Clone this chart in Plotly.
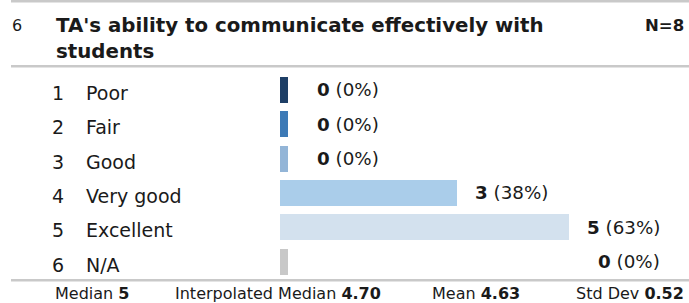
import plotly.graph_objects as go

# ---- data ----
codes = ["1", "2", "3", "4", "5", "6"]
categories = ["Poor", "Fair", "Good", "Very good", "Excellent", "N/A"]
counts = [0, 0, 0, 3, 5, 0]
percents = ["0%", "0%", "0%", "38%", "63%", "0%"]
bar_colors = ["#1e3f66", "#3d7ab6", "#93b5d7", "#aacdea", "#d3e1ee", "#c8c8c8"]
question_no = "6"
title_lines = ["TA's ability to communicate effectively with", "students"]
n_label = "N=8"
stats_labels = ["Median", "Interpolated Median", "Mean", "Std Dev"]
stats_values = ["5", "4.70", "4.63", "0.52"]

W, H = 689, 303
FONT = "Verdana, DejaVu Sans, sans-serif"
TXT = "#1a1a1a"

stub = 8 / 56.2          # minimal visible stub for zero counts (data units)
px_per_unit = 56.2
bar_left_px = 280
x_end = -stub + (W - bar_left_px) / px_per_unit

row_top_px, row_bot_px = 72.85, 278.65
ydom = [1 - row_bot_px / H, 1 - row_top_px / H]
rows = list(range(1, len(categories) + 1))

fig = go.Figure()
fig.add_trace(go.Bar(
    y=rows,
    x=[c + stub for c in counts],
    base=[-stub] * len(counts),
    orientation="h",
    marker=dict(color=bar_colors, line=dict(width=0)),
    width=0.76,
    hoverinfo="skip",
    showlegend=False,
))

ann = []
def px(x):
    return x / W
def py(y):
    return 1 - y / H

# header
ann.append(dict(x=px(10), y=py(25), xref="paper", yref="paper", text=question_no,
                xanchor="left", yanchor="middle", showarrow=False,
                font=dict(family=FONT, size=16, color=TXT)))
ann.append(dict(x=px(54), y=py(25), xref="paper", yref="paper", text="<b>%s</b>" % title_lines[0],
                xanchor="left", yanchor="middle", showarrow=False,
                font=dict(family=FONT, size=19.8, color=TXT)))
ann.append(dict(x=px(54), y=py(51), xref="paper", yref="paper", text="<b>%s</b>" % title_lines[1],
                xanchor="left", yanchor="middle", showarrow=False,
                font=dict(family=FONT, size=19.8, color=TXT)))
ann.append(dict(x=px(686), y=py(25), xref="paper", yref="paper", text="<b>%s</b>" % n_label,
                xanchor="right", yanchor="middle", showarrow=False,
                font=dict(family=FONT, size=16.5, color=TXT)))

# row labels and value labels
max_count = max(counts[:-1])
for i, (code, cat, cnt, pct) in enumerate(zip(codes, categories, counts, percents)):
    r = rows[i]
    ann.append(dict(x=px(50), y=r, xref="paper", yref="y", text=code,
                    xanchor="left", yanchor="middle", showarrow=False, yshift=-3,
                    font=dict(family=FONT, size=19, color=TXT)))
    ann.append(dict(x=px(84), y=r, xref="paper", yref="y", text=cat,
                    xanchor="left", yanchor="middle", showarrow=False, yshift=-3,
                    font=dict(family=FONT, size=19, color=TXT)))
    lx = cnt if cat != "N/A" else max_count
    ann.append(dict(x=lx, y=r, xref="x", yref="y",
                    text="<b>%d</b> (%s)" % (cnt, pct),
                    xanchor="right", yanchor="middle", showarrow=False, xshift=93,
                    font=dict(family=FONT, size=18.3, color=TXT)))

# footer stats
foot_pos = [(92, "center"), (278, "center"), (476, "center"), (686, "right")]
for (lab, val), (fx, anc) in zip(zip(stats_labels, stats_values), foot_pos):
    ann.append(dict(x=px(fx), y=py(293), xref="paper", yref="paper",
                    text="%s <b>%s</b>" % (lab, val),
                    xanchor=anc, yanchor="middle", showarrow=False,
                    font=dict(family=FONT, size=16, color=TXT)))

shapes = []
for yl in [1.3, 66.2, 280.3]:
    shapes.append(dict(type="line", xref="paper", yref="paper",
                       x0=px(11), x1=1, y0=py(yl), y1=py(yl),
                       line=dict(color="#c9c9c9", width=2.6)))

fig.update_layout(
    width=W, height=H,
    margin=dict(l=0, r=0, t=0, b=0),
    paper_bgcolor="white", plot_bgcolor="white",
    xaxis=dict(domain=[bar_left_px / W, 1], range=[-stub, x_end], visible=False, fixedrange=True),
    yaxis=dict(domain=ydom, range=[6.5, 0.5], visible=False, fixedrange=True),
    annotations=ann, shapes=shapes,
    bargap=0,
)

fig.write_html("out.html", config={"displayModeBar": False},
               post_script="document.body.style.margin='0';document.body.style.overflow='hidden';")
